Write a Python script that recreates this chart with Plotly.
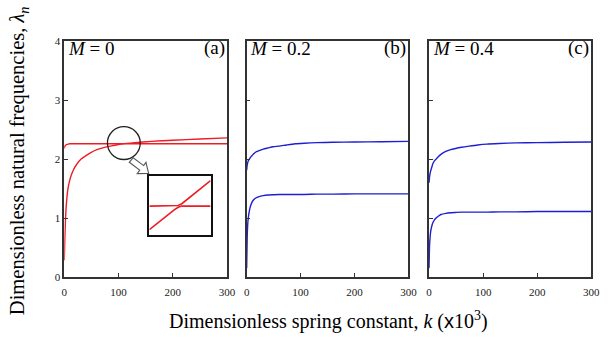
import plotly.graph_objects as go

# ---------------- data ----------------
k = [0, 1, 2, 3, 5, 7, 10, 13, 17, 22, 31, 40, 49, 60, 74, 90, 107, 130, 160, 200, 250, 300]

# panel (a) M = 0
a_rising = [0.285, 0.65, 0.92, 1.12, 1.36, 1.51, 1.64, 1.73, 1.82, 1.90, 2.00, 2.06, 2.11, 2.16,
            2.20, 2.23, 2.26, 2.28, 2.30, 2.32, 2.34, 2.36]
a_flat = [2.18, 2.22, 2.23, 2.24, 2.25, 2.255, 2.26, 2.26, 2.26, 2.26, 2.26, 2.26, 2.26, 2.26,
          2.26, 2.26, 2.26, 2.26, 2.26, 2.26, 2.26, 2.26]

# panel (b) M = 0.2
b_upper = [1.81, 1.90, 1.94, 1.97, 2.00, 2.03, 2.06, 2.09, 2.12, 2.14, 2.17, 2.19, 2.21, 2.22,
           2.24, 2.26, 2.27, 2.28, 2.285, 2.29, 2.295, 2.30]
b_lower = [0.15, 0.68, 0.90, 1.00, 1.12, 1.20, 1.27, 1.31, 1.34, 1.36, 1.38, 1.39, 1.395, 1.40,
           1.40, 1.40, 1.40, 1.405, 1.405, 1.41, 1.41, 1.41]

# panel (c) M = 0.4
c_upper = [1.60, 1.70, 1.76, 1.80, 1.86, 1.92, 1.97, 2.00, 2.04, 2.08, 2.13, 2.16, 2.18, 2.20,
           2.22, 2.24, 2.255, 2.265, 2.275, 2.28, 2.285, 2.29]
c_lower = [0.15, 0.54, 0.68, 0.77, 0.86, 0.92, 0.97, 1.00, 1.03, 1.06, 1.08, 1.09, 1.095, 1.10,
           1.10, 1.10, 1.10, 1.105, 1.105, 1.11, 1.11, 1.11]

# inset (zoom of veering region, normalised units)
inset_x = [0, 0.2, 0.4, 0.47, 0.53, 0.6, 0.8, 1.0]
inset_lower = [0.09, 0.26, 0.42, 0.47, 0.49, 0.49, 0.49, 0.49]
inset_upper = [0.49, 0.49, 0.49, 0.50, 0.53, 0.59, 0.76, 0.92]

x_ticks = [0, 100, 200, 300]
y_ticks = [0, 1, 2, 3, 4]
panel_titles = ["<i>M</i> = 0", "<i>M</i> = 0.2", "<i>M</i> = 0.4"]
panel_tags = ["(a)", "(b)", "(c)"]

# ---------------- layout helpers ----------------
W, H = 616, 346
def px(x): return x / W
def py(y): return (H - y) / H

FONT = "Liberation Serif, Times New Roman, serif"
RED = "#ee1c24"
BLUE = "#1e1ed2"
AX = "#333333"

panel_px = [(62.5, 228.5), (248.5, 413.5), (434.5, 600)]
y_dom = [py(280.7), py(36.5)]

fig = go.Figure()

series = [(a_rising, a_flat, RED), (b_upper, b_lower, BLUE), (c_upper, c_lower, BLUE)]
for i, (s1, s2, col) in enumerate(series):
    sx = "x" if i == 0 else f"x{i+1}"
    sy = "y" if i == 0 else f"y{i+1}"
    for s in (s1, s2):
        fig.add_trace(go.Scatter(x=k, y=s, mode="lines", xaxis=sx, yaxis=sy,
                                 line=dict(color=col, width=1.4, shape="spline", smoothing=0.6),
                                 showlegend=False, hoverinfo="skip"))

for s in (inset_lower, inset_upper):
    fig.add_trace(go.Scatter(x=inset_x, y=s, mode="lines", xaxis="x4", yaxis="y4",
                             line=dict(color=RED, width=1.6), showlegend=False, hoverinfo="skip"))

axis_common = dict(showline=True, linecolor=AX, linewidth=1.5, mirror=True, showgrid=False,
                   zeroline=False, ticks="inside", ticklen=4, tickcolor=AX, tickwidth=1,
                   tickfont=dict(family=FONT, size=11, color="#222"))

layout = dict(width=W, height=H, margin=dict(l=0, r=0, t=0, b=0),
              paper_bgcolor="white", plot_bgcolor="white", showlegend=False)

for i, (x0, x1) in enumerate(panel_px):
    xn = "xaxis" if i == 0 else f"xaxis{i+1}"
    yn = "yaxis" if i == 0 else f"yaxis{i+1}"
    sx = "x" if i == 0 else f"x{i+1}"
    sy = "y" if i == 0 else f"y{i+1}"
    layout[xn] = dict(axis_common, domain=[px(x0), px(x1)], range=[0, 300], anchor=sy,
                      tickvals=x_ticks, ticktext=[str(v) for v in x_ticks], ticklabelstandoff=4)
    layout[yn] = dict(axis_common, domain=y_dom, range=[0, 4], anchor=sx,
                      tickvals=y_ticks, ticktext=[str(v) for v in y_ticks],
                      showticklabels=(i == 0))

layout["xaxis4"] = dict(domain=[px(149.3), px(211.7)], range=[0, 1], anchor="y4",
                        showline=True, mirror=True, linecolor="#111", linewidth=1.5,
                        showticklabels=False, ticks="", showgrid=False, zeroline=False)
layout["yaxis4"] = dict(domain=[py(237.3), py(176)], range=[0, 1], anchor="x4",
                        showline=True, mirror=True, linecolor="#111", linewidth=1.5,
                        showticklabels=False, ticks="", showgrid=False, zeroline=False)

fig.update_layout(**layout)

annotations = []
for i, (x0, x1) in enumerate(panel_px):
    annotations.append(dict(x=px(x0 + 1.5), y=py(44), xref="paper", yref="paper", xanchor="left",
                            yanchor="middle", text=panel_titles[i], showarrow=False,
                            font=dict(family=FONT, size=19, color="black")))
    annotations.append(dict(x=px(x1 - 0.5), y=py(44), xref="paper", yref="paper", xanchor="right",
                            yanchor="middle", text=panel_tags[i], showarrow=False,
                            font=dict(family=FONT, size=19, color="black")))

annotations.append(dict(x=px(16), y=py(160), xref="paper", yref="paper", textangle=-90,
                        text="Dimensionless natural frequencies, <i>λ<sub>n</sub></i>",
                        showarrow=False, xanchor="center", yanchor="middle",
                        font=dict(family=FONT, size=20.5, color="black")))
annotations.append(dict(x=px(332), y=py(326), xref="paper", yref="paper",
                        text="Dimensionless spring constant, <i>k</i> (<span style='font-family:Liberation Sans'>x</span>10<sup>3</sup>)",
                        showarrow=False, xanchor="center", yanchor="middle",
                        font=dict(family=FONT, size=20, color="black")))
fig.update_layout(annotations=annotations)

# circle marking the veering region
fig.add_shape(type="circle", xref="paper", yref="paper",
              x0=px(106.5), x1=px(140), y0=py(159), y1=py(125),
              line=dict(color="#222", width=1.3))

# hollow block arrow from circle to inset
pts = [(128.8, 161.9), (139.4, 170.0), (136.9, 173.6), (148.5, 173.5),
       (145.8, 162.0), (143.4, 165.3), (132.8, 157.2)]
path = "M " + " L ".join(f"{px(a):.5f},{py(b):.5f}" for a, b in pts) + " Z"
fig.add_shape(type="path", xref="paper", yref="paper", path=path,
              line=dict(color="#555", width=1.1), fillcolor="white")

fig.write_html("out.html")
